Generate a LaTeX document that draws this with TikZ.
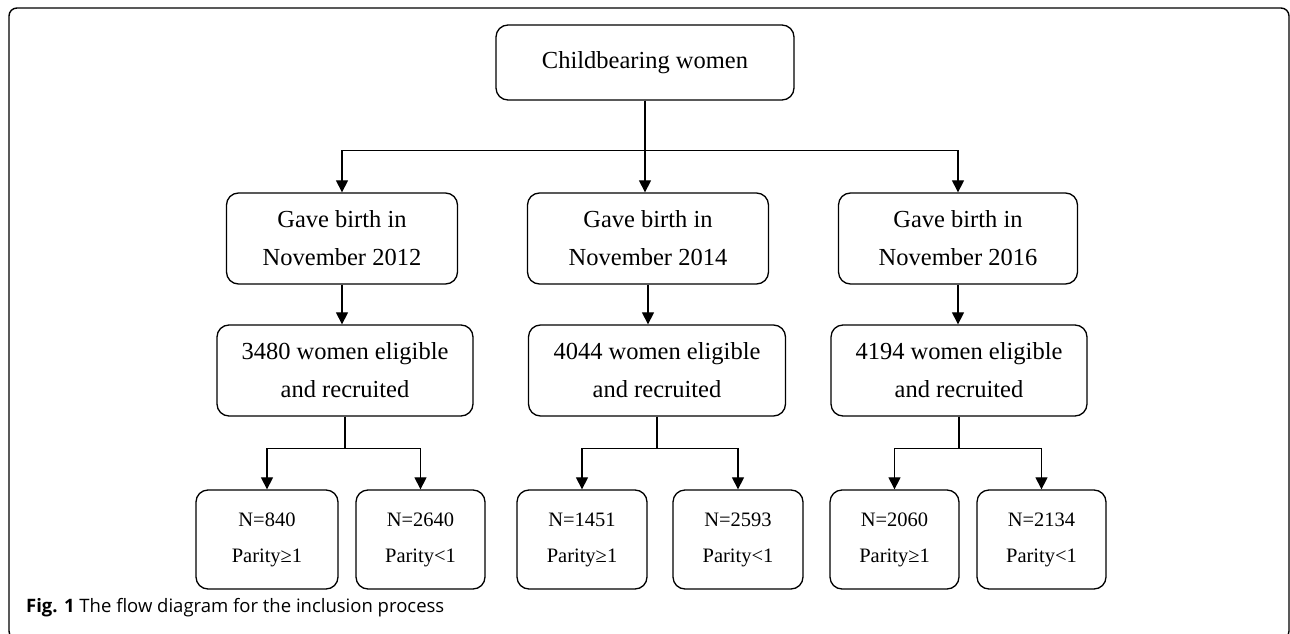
\documentclass[tikz,border=0pt]{standalone}
\usepackage{fontspec}
\setmainfont{Liberation Serif}
\newfontfamily\capfont{Open Sans}
\usetikzlibrary{arrows.meta}

\begin{document}
\begin{tikzpicture}[x=1pt, y=-1pt,
    box/.style={draw, line width=1.3pt, rounded corners=12pt, align=center,
      minimum height=91pt, font=\fontsize{24.5}{38}\selectfont},
    nbox/.style={draw, line width=1.3pt, rounded corners=12pt, align=center,
      minimum width=130pt, minimum height=99pt, font=\fontsize{20.5}{36}\selectfont},
    arr/.style={line width=1.2pt, -{Triangle[width=12pt,length=12pt]}}]
      \useasboundingbox (0,0) rectangle (1290,634);
      % outer frame, cut off by the page
      \begin{scope}
        \clip (0,0) rectangle (1290,634);
        \draw[line width=1.4pt, rounded corners=8pt] (9,8) rectangle (1289,639);
      \end{scope}
      \node[box, minimum width=298pt, minimum height=75pt] (women) at (645,62.5) {Childbearing women};
      % years
      \node[box, minimum width=231pt] (y12) at (342,238.5)  {Gave birth in\\November 2012};
      \node[box, minimum width=241pt] (y14) at (648,238.5)  {Gave birth in\\November 2014};
      \node[box, minimum width=239pt] (y16) at (958,238.5)  {Gave birth in\\November 2016};
      % recruited
      \node[box, minimum width=256pt] (r12) at (345,370.5)  {3480 women eligible\\and recruited};
      \node[box, minimum width=257pt] (r14) at (657,370.5)  {4044 women eligible\\and recruited};
      \node[box, minimum width=256pt] (r16) at (959,370.5)  {4194 women eligible\\and recruited};
      % parity
      \node[nbox, minimum width=142pt] (p12a) at (267,539.5)    {N=840\\Parity≥1};
      \node[nbox, minimum width=129pt] (p12b) at (420.5,539.5)  {N=2640\\Parity<1};
      \node[nbox] (p14a) at (582,539.5)  {N=1451\\Parity≥1};
      \node[nbox] (p14b) at (738,539.5)  {N=2593\\Parity<1};
      \node[nbox, minimum width=129pt] (p16a) at (894.5,539.5)  {N=2060\\Parity≥1};
      \node[nbox, minimum width=129pt] (p16b) at (1041.5,539.5) {N=2134\\Parity<1};
      \draw[arr] (women.south) -- ++(0,50) -| (y12.north);
      \draw[arr] (women.south) -- ++(0,50) -| (y16.north);
      \draw[arr] (women.south) -- (women.south |- y14.north);
      \foreach \yr in {12,14,16} {
        \draw[arr] (y\yr.south) -- (y\yr.south |- r\yr.north);
        \draw[arr] (r\yr.south) -- ++(0,32) -| (p\yr a.north);
        \draw[arr] (r\yr.south) -- ++(0,32) -| (p\yr b.north);
      }
      \node[anchor=base west, inner sep=0pt, font=\capfont\fontsize{18.5}{20}\selectfont] (cap) at (26,612)
        {\textbf{Fig. 1} The flow diagram for the inclusion process};
\end{tikzpicture}
\end{document}
